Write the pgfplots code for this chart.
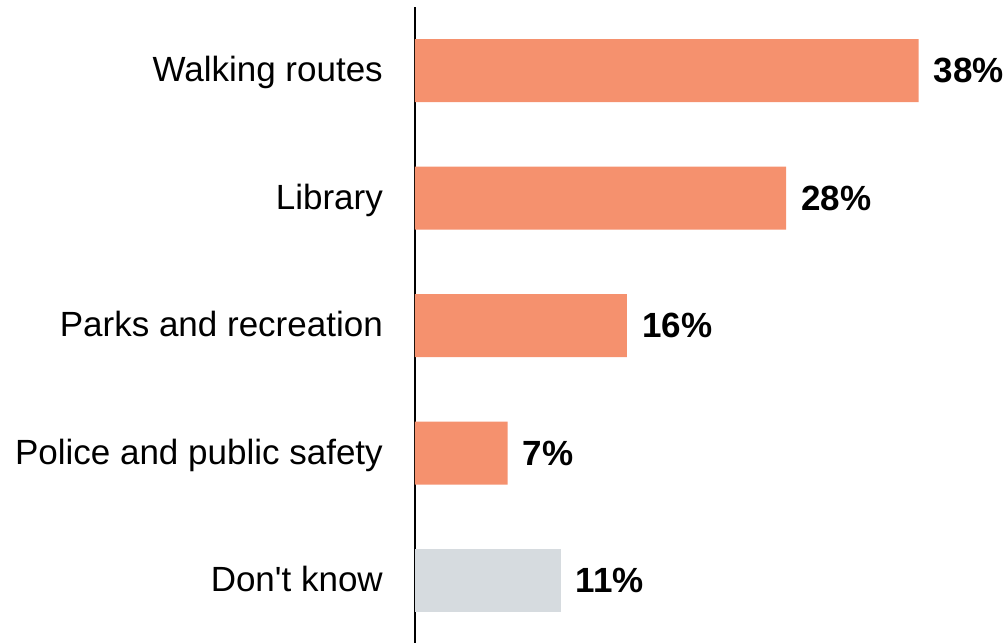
\documentclass[border=0pt]{standalone}
\usepackage{pgfplots}
\pgfplotsset{compat=1.18}
\usepackage{fontspec}
\setmainfont{Liberation Sans}[Ligatures=TeXOff]
\definecolor{barorange}{HTML}{F5916E}
\definecolor{bargray}{HTML}{D6DBDF}
\begin{document}
\begin{tikzpicture}
\path[use as bounding box] (0,0) rectangle (1005pt,643pt);
\begin{axis}[
  at={(415pt,0pt)}, anchor=south west,
  scale only axis, width=583pt, height=636pt,
  xbar, bar width=63pt, bar shift=0pt,
  xmin=0, xmax=44, ymin=-0.49, ymax=4.5,
  axis x line=none, axis y line=left,
  y axis line style={-, line width=1.5pt},
  ytick={0,...,4},
  yticklabels={Don't know, Police and public safety, Parks and recreation, Library, Walking routes},
  major tick length=0pt,
  yticklabel style={anchor=base east, inner sep=0pt, xshift=-32pt, yshift=-11pt,
    font=\fontsize{35}{42}\selectfont},
  point meta=x,
  nodes near coords={\pgfmathprintnumber[assume math mode=true]{\pgfplotspointmeta}\%},
  every node near coord/.append style={anchor=base west, inner sep=0pt, xshift=15pt, yshift=-12pt,
    font=\fontsize{35}{42}\selectfont\bfseries, text=black},
  clip=false,
]
\addplot[draw=none, fill=barorange] coordinates {(38,4) (28,3) (16,2) (7,1)};
\addplot[draw=none, fill=bargray] coordinates {(11,0)};
\end{axis}
\end{tikzpicture}
\end{document}
